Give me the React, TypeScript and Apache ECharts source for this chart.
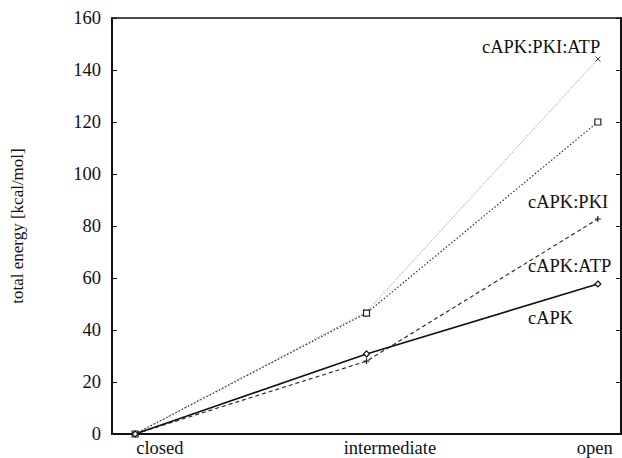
import React, { useEffect, useRef } from "react";
import * as echarts from "echarts";

const states = ["closed", "intermediate", "open"];
const stateX = [0, 1, 2];
const cAPK = [0, 30.8, 57.7];
const cAPK_ATP = [0, 28, 82.7];
const cAPK_PKI = [0, 46.5, 120];
const cAPK_PKI_ATP = [0, 47, 144.2];
const yTicks = [0, 20, 40, 60, 80, 100, 120, 140, 160];
const labels = ["cAPK:PKI:ATP", "cAPK:PKI", "cAPK:ATP", "cAPK"];

// where the category names are printed (the original set them off-centre)
const stateLabelAt = [0.107, 1.101, 1.987];

const FONT = "'Liberation Serif', 'DejaVu Serif', serif";

const pair = (ys: number[]) => ys.map((y, i) => [stateX[i], y]);

export default function App() {
  const ref = useRef<HTMLDivElement>(null);
  useEffect(() => {
    if (!ref.current) return;
    const chart = echarts.init(ref.current, null, { renderer: "svg" });
    const crossPath = "path://M0,0L10,10M10,0L0,10";
    const plusPath = "path://M5,0L5,10M0,5L10,5";
    const annot = (text: string, x: number, y: number) => ({
      type: "text",
      x,
      y,
      style: { text, font: `18.5px ${FONT}`, fill: "#111", verticalAlign: "middle" },
    });
    chart.setOption({
      animation: false,
      backgroundColor: "#fff",
      textStyle: { fontFamily: FONT },
      grid: { left: 112, right: 1, top: 18, bottom: 24 },
      xAxis: [
        {
          type: "value",
          min: -0.1,
          max: 2.1,
          splitLine: { show: false },
          axisLine: { show: true, onZero: false, lineStyle: { color: "#111", width: 2 } },
          axisTick: { show: false },
          axisLabel: {
            customValues: stateLabelAt,
            formatter: (v: number) => states[Math.round(v)] ?? "",
            color: "#111",
            fontSize: 18.5,
            fontFamily: FONT,
            margin: 4,
          },
        },
        {
          type: "value",
          position: "top",
          min: -0.1,
          max: 2.1,
          splitLine: { show: false },
          axisLine: { show: true, onZero: false, lineStyle: { color: "#111", width: 1.5 } },
          axisTick: { show: false },
          axisLabel: { show: false },
        },
      ],
      yAxis: [
        {
          type: "value",
          min: 0,
          max: yTicks[yTicks.length - 1],
          interval: 20,
          name: "total energy [kcal/mol]",
          nameLocation: "middle",
          nameGap: 86,
          nameTextStyle: { fontSize: 17, color: "#111", fontFamily: FONT },
          splitLine: { show: false },
          axisLine: { show: true, onZero: false, lineStyle: { color: "#111", width: 2 } },
          axisTick: { show: true, inside: true, length: 5, lineStyle: { color: "#111" } },
          axisLabel: { color: "#111", fontSize: 18.5, fontFamily: FONT, margin: 11 },
        },
        {
          type: "value",
          position: "right",
          min: 0,
          max: yTicks[yTicks.length - 1],
          interval: 20,
          splitLine: { show: false },
          axisLine: { show: true, onZero: false, lineStyle: { color: "#111", width: 2 } },
          axisTick: { show: true, inside: true, length: 5, lineStyle: { color: "#111" } },
          axisLabel: { show: false },
        },
      ],
      series: [
        {
          type: "line",
          data: pair(cAPK_PKI_ATP),
          symbol: crossPath,
          symbolSize: 5,
          itemStyle: { color: "transparent", borderColor: "#333", borderWidth: 1 },
          lineStyle: { color: "#777", width: 0.9, type: [1, 1.5] },
        },
        {
          type: "line",
          data: pair(cAPK_PKI),
          symbol: "rect",
          symbolSize: 6,
          itemStyle: { color: "#fff", borderColor: "#222", borderWidth: 1.2 },
          lineStyle: { color: "#333", width: 1.2, type: [1.5, 2] },
        },
        {
          type: "line",
          data: pair(cAPK_ATP),
          symbol: plusPath,
          symbolSize: 6,
          itemStyle: { color: "transparent", borderColor: "#222", borderWidth: 1.2 },
          lineStyle: { color: "#222", width: 1.1, type: [4, 3] },
        },
        {
          type: "line",
          data: pair(cAPK),
          symbol: "diamond",
          symbolSize: 6,
          itemStyle: { color: "#fff", borderColor: "#111", borderWidth: 1.2 },
          lineStyle: { color: "#111", width: 1.6, type: "solid" },
        },
      ],
      graphic: [
        annot(labels[0], 482, 47),
        annot(labels[1], 528, 202),
        annot(labels[2], 528, 266),
        annot(labels[3], 528, 318),
      ],
    });
    return () => chart.dispose();
  }, []);
  return (
    <div
      ref={ref}
      style={{ position: "fixed", left: 0, top: 0, width: 622, height: 458, background: "#fff" }}
    />
  );
}
